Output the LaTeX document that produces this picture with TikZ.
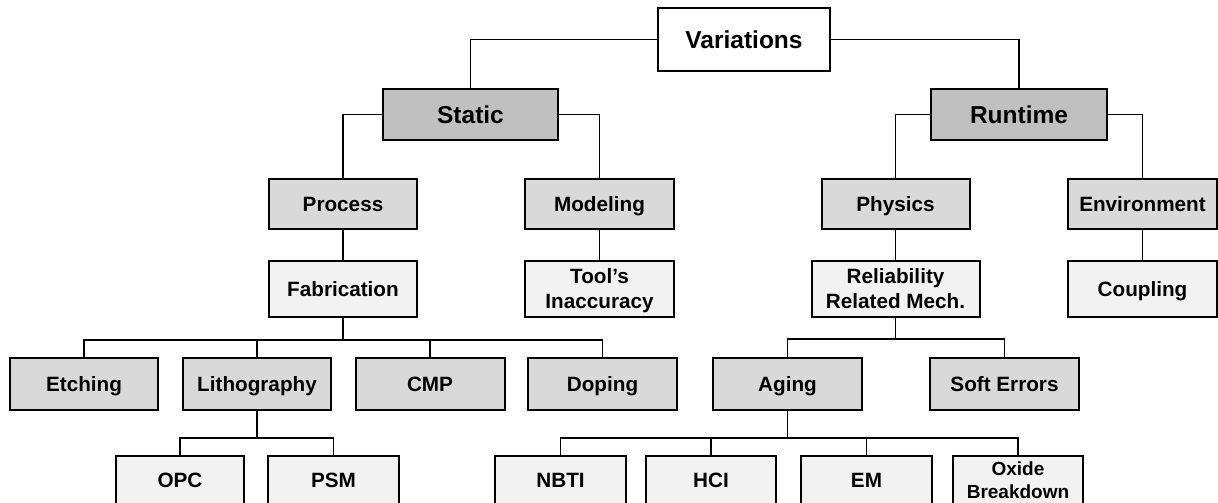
\documentclass[tikz,border=0pt]{standalone}
\usepackage{fontspec}
\setmainfont{Liberation Sans}
\definecolor{topgray}{HTML}{C0C0C0}
\definecolor{midgray}{HTML}{D9D9D9}
\definecolor{lightgray}{HTML}{F2F2F2}
\begin{document}
\begin{tikzpicture}[x=1pt,y=-1pt,
  box/.style={draw=black,line width=2pt,align=center,inner sep=0pt,
    text height=14.8pt,text depth=0pt,
    font=\bfseries\fontsize{20.7}{25}\selectfont},
  twolines/.style={text height=39.8pt},
  rootbox/.style={box,fill=white,minimum width=172,minimum height=63,
    text height=17.6pt,font=\bfseries\fontsize{24.5}{29}\selectfont},
  topbox/.style={box,fill=topgray,minimum width=175,minimum height=51,
    text height=17.6pt,font=\bfseries\fontsize{24.5}{29}\selectfont},
  midbox/.style={box,fill=midgray,minimum width=148,minimum height=50},
  leafbox/.style={box,fill=lightgray,minimum width=148,minimum height=56},
  rowbox/.style={box,fill=midgray,minimum width=149,minimum height=52},
  lowbox/.style={box,fill=lightgray,minimum width=130,minimum height=48},
  link/.style={draw=black,line width=1.6pt}]
\useasboundingbox (0,0) rectangle (1218,503);
\clip (0,0) rectangle (1218,503);

% root and the two main branches
\node[rootbox] (var) at (744,39.5) {Variations};
\node[topbox] (static) at (470.5,114.5) {Static};
\node[topbox,minimum width=176] (runtime) at (1019,114.5) {Runtime};

% second level
\node[midbox] (process) at (343,204) {Process};
\node[midbox,minimum width=149] (modeling) at (599.5,204) {Modeling};
\node[midbox] (physics) at (895.5,204) {Physics};
\node[midbox,minimum width=149] (environment) at (1142.5,204) {Environment};

% third level
\node[leafbox] (fabrication) at (343,289) {Fabrication};
\node[leafbox,twolines,minimum width=149] (tools) at (599.5,289) {Tool’s\\Inaccuracy};
\node[leafbox,twolines,minimum width=168] (reliability) at (895.5,289) {Reliability\\Related Mech.};
\node[leafbox,minimum width=149] (coupling) at (1142.5,289) {Coupling};

% fourth level
\node[rowbox,minimum width=148] (etching) at (84,384) {Etching};
\node[rowbox,minimum width=148] (litho) at (257,384) {Lithography};
\node[rowbox] (cmp) at (430,384) {CMP};
\node[rowbox] (doping) at (602.5,384) {Doping};
\node[rowbox] (aging) at (787.5,384) {Aging};
\node[rowbox] (soft) at (1004.5,384) {Soft Errors};

% bottom level, running off the lower edge
\node[lowbox,minimum width=128] (opc) at (180,480) {OPC};
\node[lowbox,minimum width=131] (psm) at (333.5,480) {PSM};
\node[lowbox,minimum width=131] (nbti) at (560.5,480) {NBTI};
\node[lowbox] (hci) at (711,480) {HCI};
\node[lowbox,minimum width=131] (em) at (866.5,480) {EM};
\node[lowbox,text height=36.6pt,font=\bfseries\fontsize{19}{23}\selectfont] (oxide) at (1018,480) {Oxide\\Breakdown};

% bus points
\coordinate (fbus) at (343,340);
\coordinate (rbus) at (895.5,339);
\coordinate (lbus) at (257,438);
\coordinate (abus) at (787.5,438);

% connectors
\draw[link] (var.west) -| (static.north);
\draw[link] (var.east) -| (runtime.north);
\draw[link] (static.west) -| (process.north);
\draw[link] (static.east) -| (modeling.north);
\draw[link] (runtime.west) -| (physics.north);
\draw[link] (runtime.east) -| (environment.north);
\draw[link] (process.south) -- (fabrication.north);
\draw[link] (modeling.south) -- (tools.north);
\draw[link] (physics.south) -- (reliability.north);
\draw[link] (environment.south) -- (coupling.north);

\draw[link] (fabrication.south) -- (fbus);
\draw[link] (etching.north) |- (fbus) -| (doping.north);
\draw[link] (litho.north) -- (litho.north |- fbus);
\draw[link] (cmp.north) -- (cmp.north |- fbus);

\draw[link] (reliability.south) -- (rbus);
\draw[link] (aging.north) |- (rbus) -| (soft.north);

\draw[link] (litho.south) -- (lbus);
\draw[link] (opc.north) |- (lbus) -| (psm.north);

\draw[link] (aging.south) -- (abus);
\draw[link] (nbti.north) |- (abus) -| (oxide.north);
\draw[link] (hci.north) -- (hci.north |- abus);
\draw[link] (em.north) -- (em.north |- abus);
\end{tikzpicture}
\end{document}
